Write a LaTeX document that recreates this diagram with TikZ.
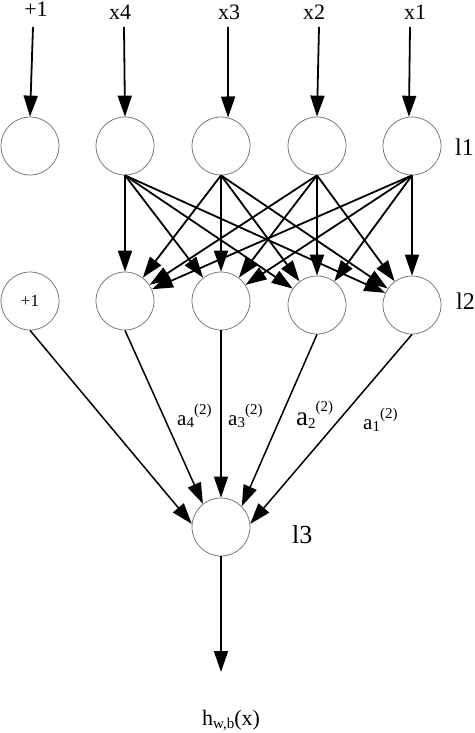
\documentclass[tikz,border=0pt]{standalone}
\usepackage{fontspec}
\setmainfont{Liberation Serif}
\usetikzlibrary{arrows.meta}
\newcommand{\fsz}[1]{\fontsize{#1}{#1}\selectfont}
\newcommand{\albl}[4]{\fsz{#4}a\raisebox{-0.12em}{\fsz{15}#1}\raisebox{0.5em}{\fsz{15}(#2)}#3}
\begin{document}
\begin{tikzpicture}[x=1pt,y=-1pt,
  neuron/.style={circle,draw=black!55,line width=0.75pt,minimum size=58pt,inner sep=0pt},
  arr/.style={-{Triangle[length=21pt,width=14pt]},line width=1.8pt},
  arrb/.style={-{Triangle[length=21pt,width=14pt]},line width=1.5pt},
  toplab/.style={anchor=base,inner sep=0pt,font=\fsz{22}},
  laylab/.style={anchor=base west,inner sep=0pt,font=\fsz{24}},
  wlab/.style={anchor=base west,inner sep=0pt}
]
\useasboundingbox (0,0) rectangle (474,733);
% input labels
\node[toplab] (L0) at (36,17) {+1};
\node[toplab] (L1) at (120,20) {x4};
\node[toplab] (L2) at (229,20) {x3};
\node[toplab] (L3) at (314,20) {x2};
\node[toplab] (L4) at (415,20) {x1};
\coordinate (s0) at (33,27);
\coordinate (s1) at (124,27);
\coordinate (s2) at (228,27);
\coordinate (s3) at (319,27);
\coordinate (s4) at (410,27);
% layer 1
\node[neuron] (i0) at (30,146) {};
\node[neuron] (i1) at (125,146) {};
\node[neuron] (i2) at (221,146) {};
\node[neuron] (i3) at (317,146) {};
\node[neuron] (i4) at (412,146) {};
% layer 2
\node[neuron,font=\fsz{17}] (h0) at (30,301) {+1};
\node[neuron] (h1) at (125,301) {};
\node[neuron] (h2) at (221,301) {};
\node[neuron] (h3) at (317,305) {};
\node[neuron] (h4) at (412,305) {};
% layer 3
\node[neuron] (o) at (221,527) {};
\coordinate (out) at (221,672);
% layer labels
\node[laylab] (l1) at (455,155) {l1};
\node[laylab] (l2) at (456,309) {l2};
\node[laylab,font=\fsz{26}] (l3) at (292,543) {l3};
% input arrows
\draw[arr] (s0) -- (i0.north);
\draw[arr] (s1) -- (i1.north);
\draw[arr] (s2) -- (i2.76);
\draw[arr] (s3) -- (i3.north);
\draw[arr] (s4) -- (i4.96);
% full connections layer 1 -> layer 2
\foreach \s in {1,...,4}{
  \foreach \t in {1,...,4}{
    \draw[arr] (i\s.south) -- (h\t);
  }
}
% layer 2 -> layer 3
\draw[arrb] (h0.south) -- (o.174);
\draw[arrb] (h1.south) -- (o.128);
\draw[arrb] (h2.south) -- (o.north);
\draw[arrb] (h3.south) -- (o.45);
\draw[arrb] (h4.south) -- (o.6);
\draw[arr] (o.south) -- (out);
% weight labels
\node[wlab] (a4) at (177,425) {\albl{4}{2}{}{21}};
\node[wlab] (a3) at (228,425) {\albl{3}{2}{}{21}};
\node[wlab] (a2) at (296,425) {\albl{2}{2}{}{27}};
\node[wlab] (a1) at (363,429) {\albl{1}{2}{}{21}};
% output label
\node[wlab] (hw) at (202,725) {\fsz{22}h\raisebox{-0.18em}{\fsz{15}w,b}(x)};
\end{tikzpicture}
\end{document}
